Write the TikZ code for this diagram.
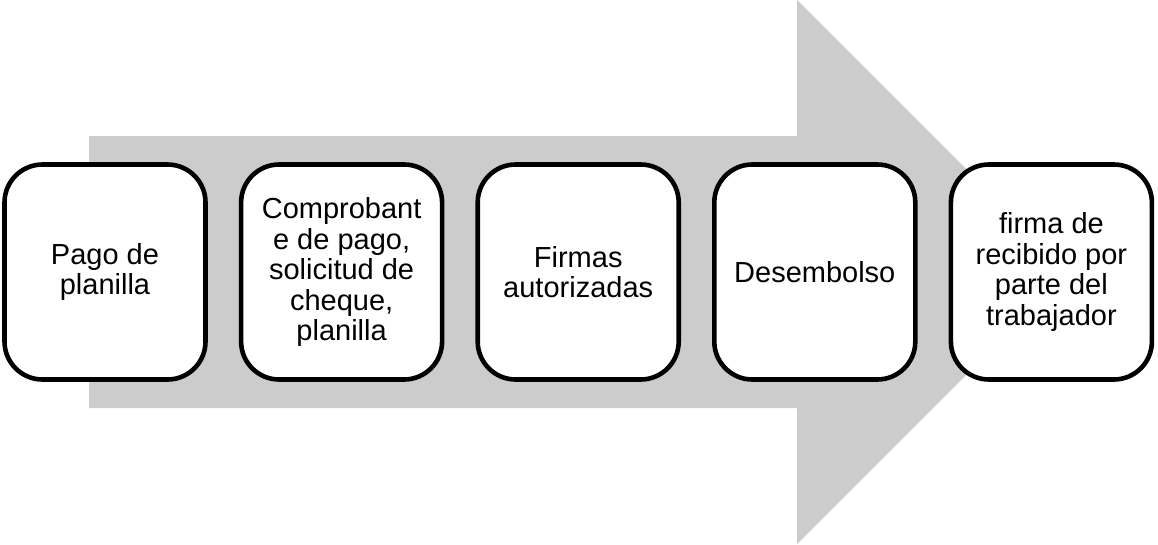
\documentclass[tikz,border=0pt]{standalone}
\usepackage{fontspec}
\setmainfont{Liberation Sans}
\usetikzlibrary{positioning}
\begin{document}
\begin{tikzpicture}[x=1pt,y=-1pt,
    paso/.style={draw,line width=4.6pt,rounded corners=38pt,fill=white,minimum width=201pt,minimum height=215pt,inner sep=0pt,align=center,font=\fontsize{29}{30.5}\selectfont},
    node distance=31pt]
  \useasboundingbox (0,0) rectangle (1158,544);
  %flecha
  \fill[gray!40] (89,136) -- (797,136) -- (797,0) -- (1069,272) -- (797,544) -- (797,408) -- (89,408) -- cycle;
  %pasos
  \node[paso] (pago) at (105,272) {Pago de\\planilla};
  \node[paso,right=of pago] (comprobante) {Comprobant\\e de pago,\\solicitud de\\cheque,\\planilla};
  \node[paso,right=of comprobante] (firmas) {Firmas\\autorizadas};
  \node[paso,right=of firmas] (desembolso) {Desembolso};
  \node[paso,right=of desembolso] (recibido) {firma de\\recibido por\\parte del\\trabajador};
\end{tikzpicture}
\end{document}
